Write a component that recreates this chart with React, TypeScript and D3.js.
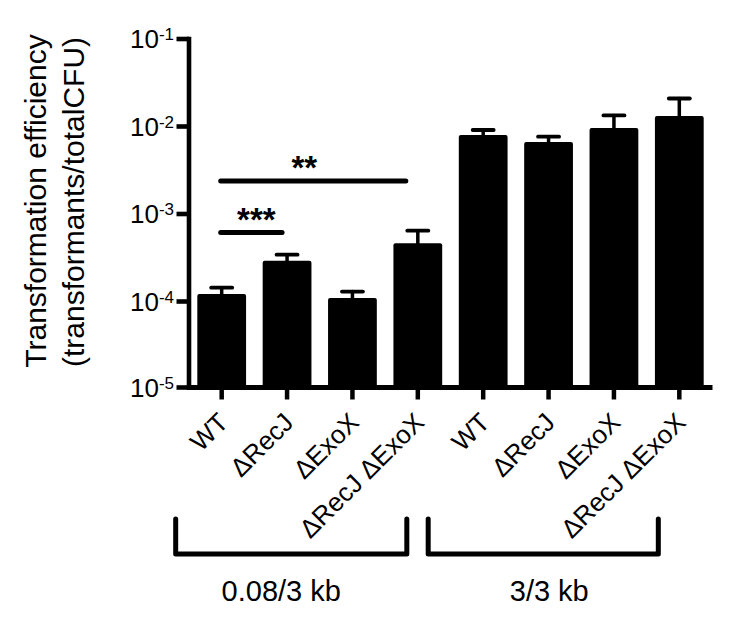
import React from "react";
import * as d3 from "d3";

const categories = ["WT", "ΔRecJ", "ΔExoX", "ΔRecJ ΔExoX", "WT", "ΔRecJ", "ΔExoX", "ΔRecJ ΔExoX"];
const means = [1.22e-4, 2.92e-4, 1.1e-4, 4.63e-4, 8.0e-3, 6.65e-3, 9.64e-3, 1.32e-2];
const errors = [0.22e-4, 0.51e-4, 0.2e-4, 1.82e-4, 1.12e-3, 1.0e-3, 3.76e-3, 7.7e-3];
const yTicks = [1e-5, 1e-4, 1e-3, 1e-2, 1e-1];
const yTickExp = ["-5", "-4", "-3", "-2", "-1"];
const groupLabels = ["0.08/3 kb", "3/3 kb"];
const groupFirst = [0, 4];
const groupLast = [3, 7];
const sigLabels = ["***", "**"];
const sigFrom = [0, 0];
const sigTo = [1, 3];

const W = 736;
const H = 637;
const FONT = "'Liberation Sans', Arial, Helvetica, sans-serif";

export default function App() {
  const ids = categories.map((_, i) => String(i));
  const x = d3.scaleBand().domain(ids).range([189, 712]).paddingInner(0.254).paddingOuter(0.127);
  const y = d3.scaleLog().domain([1e-5, 1e-1]).range([389, 39]);
  const bw = x.bandwidth();
  const cx = (i: number) => (x(String(i)) as number) + bw / 2;
  const axisY = y(1e-5) - 1.5;
  const axisX = 189;

  const sigY = [232.5, 181];
  const sigEndOffset = [-5, -12];

  return (
    <svg width={W} height={H} style={{ position: "absolute", left: 0, top: 0, background: "#fff" }} fontFamily={FONT}>
      <rect x={0} y={0} width={W} height={H} fill="#fff" />
      {means.map((m, i) => (
        <rect key={"b" + i} x={x(String(i))} y={y(m)} width={bw} height={axisY - y(m)} fill="#000" rx={2} />
      ))}
      {means.map((m, i) => (
        <g key={"e" + i} stroke="#000" strokeLinecap="round">
          <line x1={cx(i)} x2={cx(i)} y1={y(m)} y2={y(m + errors[i])} strokeWidth={3.5} />
          <line x1={cx(i) - 10.5} x2={cx(i) + 10.5} y1={y(m + errors[i])} y2={y(m + errors[i])} strokeWidth={3.8} />
        </g>
      ))}
      <line x1={axisX} x2={axisX} y1={y(1e-1) - 2.2} y2={axisY + 2.5} stroke="#000" strokeWidth={4.6} />
      {yTicks.map((t, i) => (
        <g key={"yt" + i}>
          <line x1={176.5} x2={axisX} y1={i === 0 ? axisY : y(t)} y2={i === 0 ? axisY : y(t)} stroke="#000" strokeWidth={4.6} />
          <text x={174} y={(i === 0 ? axisY : y(t)) + 9} textAnchor="end" fontSize={26} fill="#000">
            10<tspan fontSize={17} dy={-8}>{yTickExp[i]}</tspan>
          </text>
        </g>
      ))}
      <line x1={axisX} x2={712.5} y1={axisY} y2={axisY} stroke="#000" strokeWidth={5} />
      {categories.map((c, i) => (
        <g key={"xt" + i}>
          <line x1={cx(i)} x2={cx(i)} y1={axisY} y2={399.5} stroke="#000" strokeWidth={4.5} />
          <text transform={`translate(${cx(i) + 8},424) rotate(-45)`} textAnchor="end" fontSize={26} fill="#000">
            {c}
          </text>
        </g>
      ))}
      <text transform="translate(46,201) rotate(-90)" textAnchor="middle" fontSize={30} fill="#000">
        Transformation efficiency
      </text>
      <text transform="translate(84,202) rotate(-90)" textAnchor="middle" fontSize={30} fill="#000">
        (transformants/totalCFU)
      </text>
      {sigLabels.map((s, k) => {
        const x1 = cx(sigFrom[k]) - 1;
        const x2 = cx(sigTo[k]) + sigEndOffset[k];
        return (
          <g key={"s" + k}>
            <line x1={x1} x2={x2} y1={sigY[k]} y2={sigY[k]} stroke="#000" strokeWidth={5} strokeLinecap="round" />
            <text x={(x1 + x2) / 2 + (k === 0 ? 5 : -9)} y={sigY[k] - 2} textAnchor="middle" fontSize={33} fontWeight="bold" fill="#000">
              {s}
            </text>
          </g>
        );
      })}
      {groupLabels.map((g, k) => {
        const x1 = cx(groupFirst[k]) - (k === 0 ? 46 : 55);
        const x2 = cx(groupLast[k]) - (k === 0 ? 11 : 21);
        return (
          <g key={"g" + k}>
            <path d={`M${x1},519 V554 H${x2} V519`} fill="none" stroke="#000" strokeWidth={5} strokeLinecap="round" strokeLinejoin="round" />
            <text x={(x1 + x2) / 2 - (k === 0 ? 10 : -6)} y={601} textAnchor="middle" fontSize={29} fill="#000">
              {g}
            </text>
          </g>
        );
      })}
    </svg>
  );
}
